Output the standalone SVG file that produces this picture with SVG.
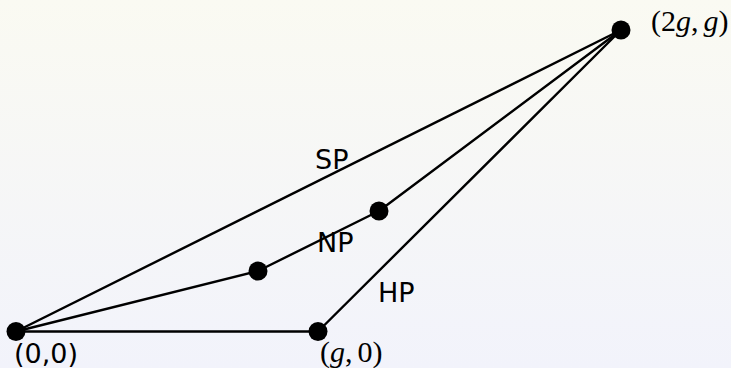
<svg xmlns="http://www.w3.org/2000/svg" width="731" height="368" viewBox="0 0 731 368">
<defs>
<linearGradient id="bg" x1="0" y1="0" x2="0" y2="1">
<stop offset="0" stop-color="#fafaf2"/>
<stop offset="1" stop-color="#f2f3fb"/>
</linearGradient>
<style>
.e{fill:none;stroke:#000;stroke-width:2.4;stroke-linejoin:round}
.n{fill:#000}
.t{font-family:"DejaVu Sans",sans-serif;font-size:27px;fill:#000}
.m{font-family:"Liberation Serif",serif;font-size:30px;fill:#000}
.i{font-style:italic}
</style>
</defs>
<rect width="731" height="368" fill="url(#bg)"/>
<g id="connectors">
<path id="SP" class="e" d="M16,331.5 L621,30"/>
<path id="NP" class="e" d="M16,331.5 L258,271 L379,211 L621,30"/>
<path id="HP" class="e" d="M16,331.5 L318,331.5 L621,30"/>
</g>
<g id="labels">
<text class="t" x="315" y="169">SP</text>
<text class="t" x="317" y="252">NP</text>
<text class="t" x="378" y="302">HP</text>
</g>
<g id="n00"><circle class="n" cx="16" cy="331.5" r="9.5"/><text class="t" x="14" y="363">(0,0)</text></g>
<g id="ng0"><circle class="n" cx="318" cy="331.5" r="9.5"/><text class="m" x="320" y="362">(<tspan class="i">g</tspan>,<tspan dx="5">0)</tspan></text></g>
<g id="n2gg"><circle class="n" cx="621" cy="30" r="9.5"/><text class="m" x="651" y="31">(2<tspan class="i">g</tspan>,<tspan class="i" dx="5">g</tspan>)</text></g>
<g id="np1"><circle class="n" cx="258" cy="271" r="9.5"/></g>
<g id="np2"><circle class="n" cx="379" cy="211" r="9.5"/></g>
</svg>
